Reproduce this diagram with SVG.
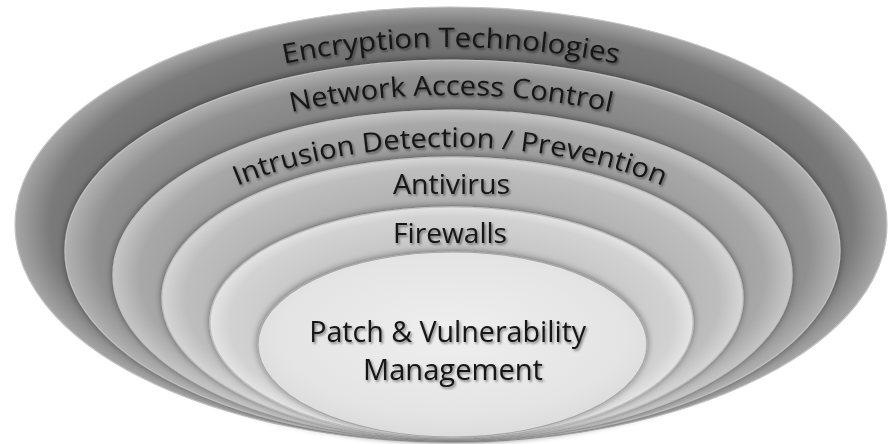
<svg xmlns="http://www.w3.org/2000/svg" width="888" height="444" viewBox="0 0 888 444">
<style>
  .lbl { font-family: "Open Sans", "Noto Sans", "DejaVu Sans", sans-serif; fill: #151515; filter: url(#tshadow); }
  .ring { stroke: #c2c2c2; stroke-width: 1.2; }
  .inner { filter: url(#glow); }
</style>
<defs>
  <filter id="tshadow" x="-10%" y="-30%" width="120%" height="160%">
    <feDropShadow dx="1.5" dy="1.8" stdDeviation="1.3" flood-color="#000" flood-opacity="0.45"/>
  </filter>
  <filter id="glow" x="-5%" y="-10%" width="110%" height="120%">
    <feGaussianBlur in="SourceAlpha" stdDeviation="3.5" result="b"/>
    <feOffset dy="-1" in="b" result="o"/>
    <feFlood flood-color="#000" flood-opacity="0.45"/>
    <feComposite in2="o" operator="in" result="s"/>
    <feMerge><feMergeNode in="s"/><feMergeNode in="SourceGraphic"/></feMerge>
  </filter>
  <radialGradient id="g1" cx="0.5" cy="0.5" r="0.5">
    <stop offset="0.7" stop-color="#6a6a6a"/>
    <stop offset="0.92" stop-color="#7a7a7a"/>
    <stop offset="1" stop-color="#a6a6a6"/>
  </radialGradient>
  <radialGradient id="g2" cx="0.5" cy="0.5" r="0.5">
    <stop offset="0.7" stop-color="#7e7e7e"/>
    <stop offset="0.92" stop-color="#909090"/>
    <stop offset="1" stop-color="#b2b2b2"/>
  </radialGradient>
  <radialGradient id="g3" cx="0.5" cy="0.5" r="0.5">
    <stop offset="0.7" stop-color="#999999"/>
    <stop offset="0.92" stop-color="#a8a8a8"/>
    <stop offset="1" stop-color="#c6c6c6"/>
  </radialGradient>
  <radialGradient id="g4" cx="0.5" cy="0.5" r="0.5">
    <stop offset="0.7" stop-color="#b2b2b2"/>
    <stop offset="0.92" stop-color="#bebebe"/>
    <stop offset="1" stop-color="#d6d6d6"/>
  </radialGradient>
  <radialGradient id="g5" cx="0.5" cy="0.5" r="0.5">
    <stop offset="0.7" stop-color="#c8c8c8"/>
    <stop offset="0.92" stop-color="#d2d2d2"/>
    <stop offset="1" stop-color="#e4e4e4"/>
  </radialGradient>
  <radialGradient id="g6" cx="0.5" cy="0.45" r="0.55">
    <stop offset="0" stop-color="#efefef"/>
    <stop offset="0.8" stop-color="#e4e4e4"/>
    <stop offset="1" stop-color="#dcdcdc"/>
  </radialGradient>
  <path id="p1" d="M 21 262 A 430 215 0 0 1 881 262"/>
  <path id="p2" d="M 61 290 A 390 195 0 0 1 841 290"/>
  <path id="p3" d="M 120 312 A 330 165 0 0 1 780 312"/>
</defs>
<rect width="888" height="444" fill="#ffffff"/>

<g id="encryption">
  <ellipse class="ring" cx="451" cy="224.5" rx="436" ry="217.5" fill="url(#g1)"/>
  <text class="lbl" font-size="27"><textPath href="#p1" startOffset="50%" text-anchor="middle" textLength="336" lengthAdjust="spacingAndGlyphs">Encryption Technologies</textPath></text>
</g>
<g id="network-access-control">
  <ellipse class="ring inner" cx="452.5" cy="250.5" rx="387.5" ry="190.5" fill="url(#g2)"/>
  <text class="lbl" font-size="27"><textPath href="#p2" startOffset="50%" text-anchor="middle" textLength="322" lengthAdjust="spacingAndGlyphs">Network Access Control</textPath></text>
</g>
<g id="intrusion">
  <ellipse class="ring inner" cx="452.5" cy="275" rx="339.5" ry="165" fill="url(#g3)"/>
  <text class="lbl" font-size="27"><textPath href="#p3" startOffset="50%" text-anchor="middle" textLength="435" lengthAdjust="spacingAndGlyphs">Intrusion Detection / Prevention</textPath></text>
</g>
<g id="antivirus">
  <ellipse class="ring inner" cx="452.5" cy="298" rx="290.5" ry="141" fill="url(#g4)"/>
  <text class="lbl" x="451.5" y="194" font-size="28" text-anchor="middle" textLength="117" lengthAdjust="spacingAndGlyphs">Antivirus</text>
</g>
<g id="firewalls">
  <ellipse class="ring inner" cx="451.5" cy="322.5" rx="241.5" ry="115.5" fill="url(#g5)"/>
  <text class="lbl" x="450" y="243" font-size="28" text-anchor="middle" textLength="114" lengthAdjust="spacingAndGlyphs">Firewalls</text>
</g>
<g id="patch">
  <ellipse class="inner" cx="452.5" cy="344.5" rx="194.5" ry="92.5" fill="url(#g6)" stroke="#a8a8a8" stroke-width="1.2"/>
  <text class="lbl" font-size="29" text-anchor="middle">
    <tspan x="451.5" y="342" textLength="277" lengthAdjust="spacingAndGlyphs">Patch &amp; Vulnerability</tspan>
    <tspan x="453" y="380" textLength="180" lengthAdjust="spacingAndGlyphs">Management</tspan>
  </text>
</g>
</svg>
